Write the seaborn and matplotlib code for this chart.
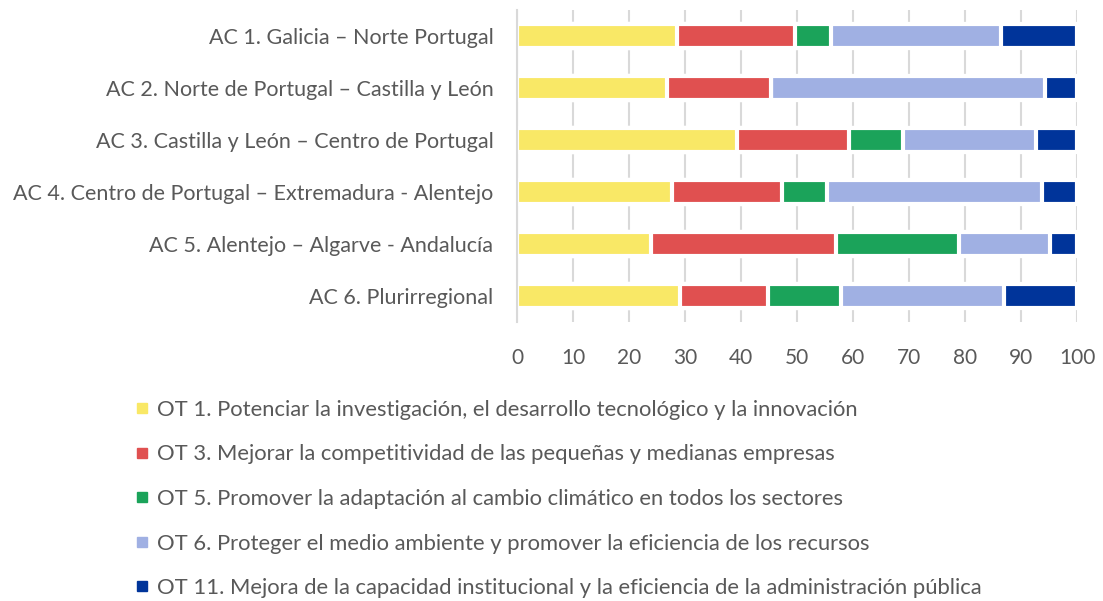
import numpy as np
import pandas as pd
import matplotlib
matplotlib.use("Agg")
import matplotlib.pyplot as plt
import seaborn as sns
from matplotlib.lines import Line2D

categories = [
    "AC 1. Galicia – Norte Portugal",
    "AC 2. Norte de Portugal – Castilla y León",
    "AC 3. Castilla y León – Centro de Portugal",
    "AC 4. Centro de Portugal – Extremadura - Alentejo",
    "AC 5. Alentejo – Algarve - Andalucía",
    "AC 6. Plurirregional",
]
series_names = [
    "OT 1. Potenciar la investigación, el desarrollo tecnológico y la innovación",
    "OT 3. Mejorar la competitividad de las pequeñas y medianas empresas",
    "OT 5. Promover la adaptación al cambio climático en todos los sectores",
    "OT 6. Proteger el medio ambiente y promover la eficiencia de los recursos",
    "OT 11. Mejora de la capacidad institucional y la eficiencia de la administración pública",
]
ot1 = [28.6, 26.7, 39.3, 27.7, 23.9, 29.1]
ot3 = [21.0, 18.7, 20.0, 19.7, 33.0, 15.7]
ot5 = [6.4, 0.0, 9.7, 8.0, 22.0, 13.0]
ot6 = [30.4, 48.8, 23.6, 38.3, 16.2, 29.2]
ot11 = [13.6, 5.8, 7.4, 6.3, 4.9, 13.0]
colors = ["#F9E866", "#E05050", "#1BA35A", "#A0B0E3", "#00349A"]
xticks = [0, 10, 20, 30, 40, 50, 60, 70, 80, 90, 100]

sns.set_theme(style="white")
plt.rcParams["font.family"] = ["Lato", "DejaVu Sans"]
text_color = "#595959"

vals = np.array([ot1, ot3, ot5, ot6, ot11])
cum = np.cumsum(vals, axis=0)

fig = plt.figure(figsize=(11.03, 6.01), dpi=100)
ax = fig.add_axes([517/1103, 1-322/601, (1077-517)/1103, (322-10)/601])

for i in range(len(series_names) - 1, -1, -1):
    df = pd.DataFrame({"cat": categories, "val": cum[i]})
    sns.barplot(data=df, x="val", y="cat", orient="h", color=colors[i],
                width=0.45, edgecolor="white", linewidth=3, saturation=1,
                ax=ax, zorder=2)

ax.set_xlim(0, 100)
ax.set_ylim(5.5, -0.5)
ax.set_xticks(xticks)
ax.set_xticklabels([str(t) for t in xticks])
ax.set_xlabel("")
ax.set_ylabel("")
ax.grid(axis="x", color="#D9D9D9", linewidth=1.5, zorder=0)
ax.set_axisbelow(True)
ax.tick_params(axis="x", length=0, pad=19, labelsize=15, labelcolor=text_color)
ax.tick_params(axis="y", length=0, pad=17, labelsize=15.5, labelcolor=text_color)
for s in ["top", "right", "bottom"]:
    ax.spines[s].set_visible(False)
ax.spines["left"].set_color("#D9D9D9")
ax.spines["left"].set_linewidth(1.5)

handles = [Line2D([0], [0], marker="s", linestyle="none", markersize=7,
                  markerfacecolor=c, markeredgecolor=c) for c in colors]
fig.legend(handles, series_names, loc="upper left",
           bbox_to_anchor=(126/1103, 1-391/601), frameon=False,
           fontsize=15.8, labelcolor=text_color, labelspacing=1.12,
           handletextpad=0.3, handlelength=0.7, borderaxespad=0)

fig.savefig("out.png", dpi=100)
